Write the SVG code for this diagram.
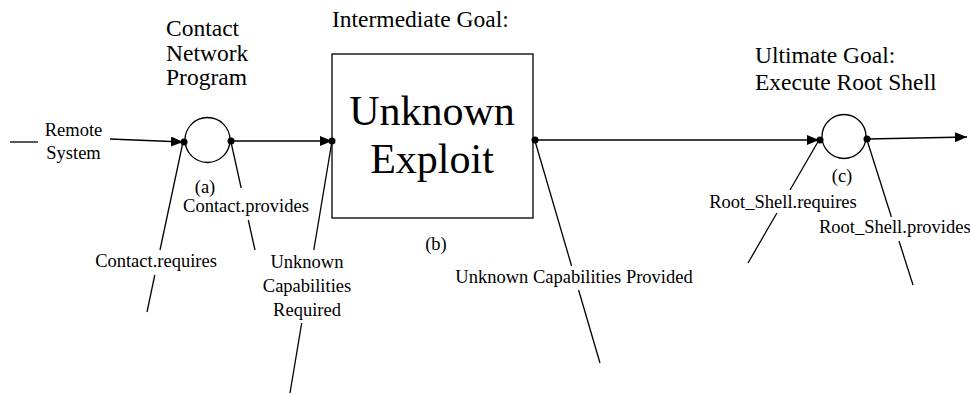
<svg xmlns="http://www.w3.org/2000/svg" width="970" height="394" viewBox="0 0 970 394">
<style>
text{font-family:"Liberation Serif","Times New Roman",Tinos,"DejaVu Serif",serif;fill:#000}
.h{font-size:23.5px}
.s{font-size:18.5px}
.c{text-anchor:middle}
.big{font-size:42px;text-anchor:middle}
.ln{stroke:#000;stroke-width:1.3;fill:none}
.dot{fill:#000}
</style>
<defs>
<marker id="ah" viewBox="0 0 12 10" refX="12" refY="5" markerWidth="12" markerHeight="10" markerUnits="userSpaceOnUse" orient="auto">
<path d="M0,0 L12,5 L0,10 Z" fill="#000"/>
</marker>
</defs>
<rect width="970" height="394" fill="#fff"/>
<g id="connectors">
<line class="ln" x1="10" y1="142" x2="38" y2="142"/>
<line class="ln" x1="110" y1="139" x2="183" y2="142" marker-end="url(#ah)"/>
<line class="ln" x1="231" y1="141" x2="332" y2="141" marker-end="url(#ah)"/>
<line class="ln" x1="535" y1="140" x2="819" y2="140" marker-end="url(#ah)"/>
<line class="ln" x1="867" y1="139" x2="967" y2="137" marker-end="url(#ah)"/>
<line class="ln" x1="183" y1="142" x2="160" y2="250"/>
<line class="ln" x1="154.8" y1="275" x2="147" y2="312"/>
<line class="ln" x1="231" y1="142" x2="241.2" y2="188"/>
<line class="ln" x1="248.3" y1="220" x2="255" y2="250"/>
<line class="ln" x1="332" y1="141" x2="313.8" y2="250"/>
<line class="ln" x1="301.7" y1="323" x2="290" y2="393"/>
<line class="ln" x1="535" y1="141" x2="571.6" y2="266"/>
<line class="ln" x1="578.6" y1="290" x2="600" y2="363"/>
<line class="ln" x1="819" y1="140" x2="790" y2="190"/>
<line class="ln" x1="776.9" y1="213" x2="748" y2="263"/>
<line class="ln" x1="867" y1="140" x2="891.4" y2="217"/>
<line class="ln" x1="899" y1="241" x2="913" y2="285"/>
</g>
<g id="remote">
<text class="s c" x="73.5" y="136" font-family="Liberation Serif, serif">Remote</text>
<text class="s c" x="73.5" y="159" font-family="Liberation Serif, serif">System</text>
</g>
<g id="nodeA">
<text class="h" x="166" y="36">Contact</text>
<text class="h" x="166" y="60.5">Network</text>
<text class="h" x="166" y="85">Program</text>
<circle class="ln" cx="207.5" cy="140" r="22.5"/>
<circle class="dot" cx="184" cy="142" r="3.5"/>
<circle class="dot" cx="231" cy="141" r="3.5"/>
<text class="s c" x="205" y="193">(a)</text>
<text class="s c" x="246" y="212">Contact.provides</text>
<text class="s c" x="156" y="267">Contact.requires</text>
</g>
<g id="nodeB">
<text class="h" x="332" y="27">Intermediate Goal:</text>
<rect class="ln" x="332" y="54" width="201" height="164"/>
<text class="big" x="432" y="125">Unknown</text>
<text class="big" x="432" y="173">Exploit</text>
<circle class="dot" cx="332" cy="141" r="3.5"/>
<circle class="dot" cx="535" cy="140" r="3.5"/>
<text class="s c" x="436" y="250">(b)</text>
<text class="s c" x="307" y="268">Unknown</text>
<text class="s c" x="307" y="292">Capabilities</text>
<text class="s c" x="307" y="316">Required</text>
<text class="s c" x="574" y="283">Unknown Capabilities Provided</text>
</g>
<g id="nodeC">
<text class="h" x="755" y="63">Ultimate Goal:</text>
<text class="h" x="755" y="90">Execute Root Shell</text>
<circle class="ln" cx="844" cy="136.5" r="22"/>
<circle class="dot" cx="820" cy="140" r="3.5"/>
<circle class="dot" cx="867" cy="139" r="3.5"/>
<text class="s c" x="842" y="182">(c)</text>
<text class="s c" x="783" y="208">Root_Shell.requires</text>
<text class="s" x="819" y="233">Root_Shell.provides</text>
</g>
</svg>
